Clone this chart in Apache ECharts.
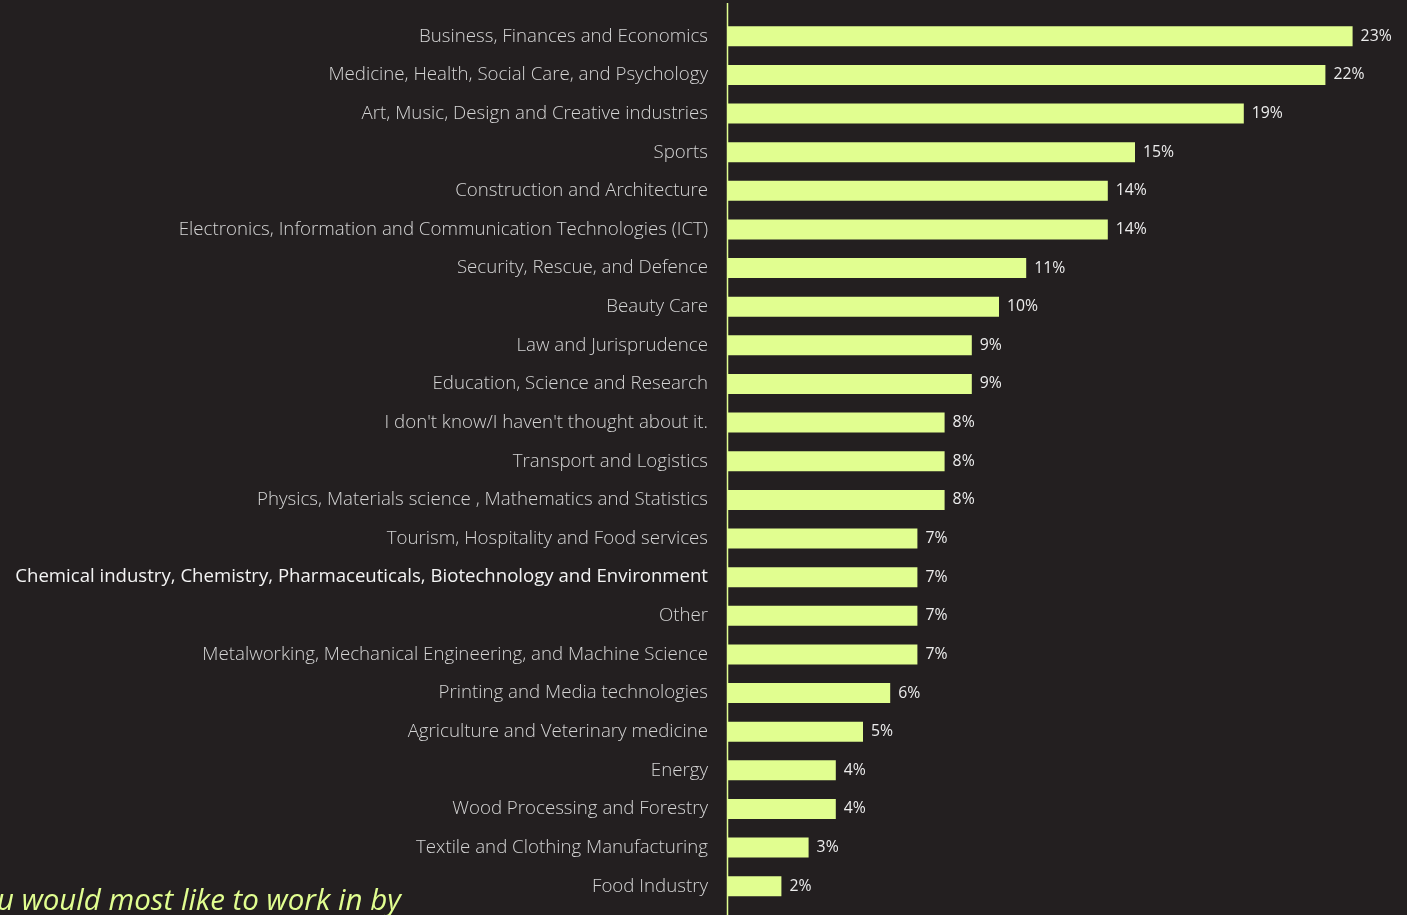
<!DOCTYPE html>
<html><head><meta charset="utf-8">
<script src="https://cdn.jsdelivr.net/npm/echarts@6/dist/echarts.min.js"></script>
<style>html,body{margin:0;padding:0;background:#231f20;overflow:hidden}#c{width:1407px;height:915px}</style>
</head><body><div id="c"></div>
<script>
const categories = [
  "Business, Finances and Economics",
  "Medicine, Health, Social Care, and Psychology",
  "Art, Music, Design and Creative industries",
  "Sports",
  "Construction and Architecture",
  "Electronics, Information and Communication Technologies (ICT)",
  "Security, Rescue, and Defence",
  "Beauty Care",
  "Law and Jurisprudence",
  "Education, Science and Research",
  "I don't know/I haven't thought about it.",
  "Transport and Logistics",
  "Physics, Materials science , Mathematics and Statistics",
  "Tourism, Hospitality and Food services",
  "Chemical industry, Chemistry, Pharmaceuticals, Biotechnology and Environment",
  "Other",
  "Metalworking, Mechanical Engineering, and Machine Science",
  "Printing and Media technologies",
  "Agriculture and Veterinary medicine",
  "Energy",
  "Wood Processing and Forestry",
  "Textile and Clothing Manufacturing",
  "Food Industry"
];
const values = [23, 22, 19, 15, 14, 14, 11, 10, 9, 9, 8, 8, 8, 7, 7, 7, 7, 6, 5, 4, 4, 3, 2];
const highlighted = "Chemical industry, Chemistry, Pharmaceuticals, Biotechnology and Environment";
const titleText = "u would most like to work in by";

const chart = echarts.init(document.getElementById('c'));
chart.setOption({
  backgroundColor: '#231f20',
  animation: false,
  grid: { left: 727, right: 0, top: 17, bottom: 9.5, containLabel: false },
  xAxis: { type: 'value', min: 0, max: 25, show: false },
  yAxis: {
    type: 'category', data: categories, inverse: true,
    axisLine: { show: false },
    axisTick: { show: false },
    axisLabel: {
      margin: 19,
      fontFamily: 'Open Sans', fontSize: 18.7, fontWeight: 300, color: '#d4d4d4',
      formatter: function (v) { return v === highlighted ? '{h|' + v + '}' : v; },
      rich: { h: { fontFamily: 'Open Sans', fontSize: 18.6, fontWeight: 400, color: '#f4f4f4' } }
    }
  },
  series: [{
    type: 'bar', data: values, barWidth: 20,
    itemStyle: { color: '#e1fe90' },
    label: {
      show: true, position: 'right', distance: 8,
      formatter: '{c}%', fontFamily: 'Open Sans', fontSize: 15.8, color: '#ececec'
    }
  }],
  graphic: [
    { type: 'line', shape: { x1: 727.5, y1: 3, x2: 727.5, y2: 915 }, style: { stroke: '#e1fe90', lineWidth: 1.5 }, silent: true },
    { type: 'text', left: -3, top: 887, style: { text: titleText, fontFamily: 'Open Sans', fontStyle: 'italic', fontSize: 29.5, fill: '#e1fe90' } }
  ]
});
</script></body></html>
